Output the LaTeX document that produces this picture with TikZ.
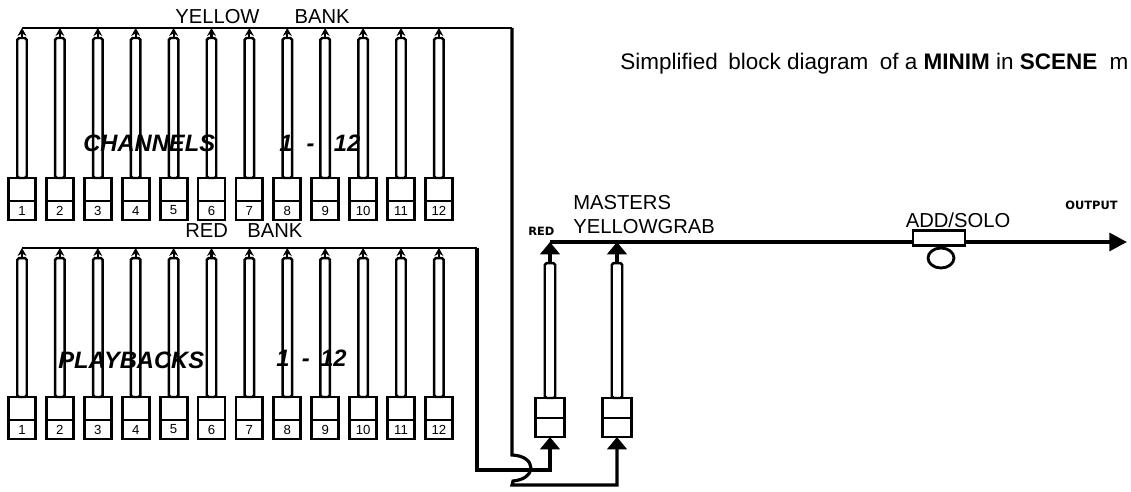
\documentclass[tikz,border=0pt]{standalone}
\usepackage{fontspec}
\setmainfont{Liberation Sans}
\newfontfamily\tinybold{DejaVu Sans}
\usetikzlibrary{positioning,arrows.meta,shapes.geometric}

\begin{document}
\begin{tikzpicture}[x=0.02cm,y=-0.02cm,
    knobtop/.style={draw,line width=1.6pt,fill=white,outer sep=0pt,inner sep=0pt,
      minimum width=0.54cm,minimum height=0.46cm},
    knobbot/.style={knobtop,minimum height=0.38cm,font=\fontsize{7.5}{8}\selectfont},
    rod/.style={draw,line width=1.4pt,fill=white,outer sep=0pt,inner sep=0pt,
      minimum width=0.19cm,rounded corners=1pt},
    bus/.style={line width=1.4pt},
    tap/.style={line width=1.2pt,-{Stealth[length=4.5pt,width=5pt]}},
    feed/.style={line width=1.8pt,-{Triangle[length=7pt,width=11pt]}},
    lbl/.style={font=\fontsize{11.5}{13}\selectfont,inner sep=0pt},
    big/.style={font=\fontsize{13.5}{15}\selectfont\bfseries\itshape,inner sep=0pt}]

\useasboundingbox (0,0) rectangle (1131,492);

\coordinate (ybusL) at (22,28);
\coordinate (ybusR) at (512,28);
\coordinate (rbusL) at (22,248);
\coordinate (rbusR) at (477,248);
\coordinate (rfeed) at (477,470);
\coordinate (yfeed) at (512,485);
\coordinate (obusL) at (550,242);
\coordinate (out) at (1127,242);

% channel faders
\foreach \i in {1,...,12} {
  \node[knobtop,anchor=north] (ct\i) at ({22+37.9*(\i-1)},178) {};
  \node[knobbot,below=0pt of ct\i] (cb\i) {\i};
  \node[rod,anchor=south,minimum height=2.8cm] (cr\i) at (ct\i.north) {};
  \draw[tap] (cr\i.north) -- (cr\i.north |- ybusL);
}
% playback faders
\foreach \i in {1,...,12} {
  \node[knobtop,anchor=north] (pt\i) at ({22+37.9*(\i-1)},397) {};
  \node[knobbot,below=0pt of pt\i] (pb\i) {\i};
  \node[rod,anchor=south,minimum height=2.78cm] (pr\i) at (pt\i.north) {};
  \draw[tap] (pr\i.north) -- (pr\i.north |- rbusL);
}
% masters
\foreach \i/\x in {1/550,2/617} {
  \node[knobtop,anchor=north,minimum width=0.58cm,minimum height=0.40cm] (mt\i) at (\x,398) {};
  \node[knobbot,below=0pt of mt\i,minimum width=0.58cm] (mb\i) {};
  \node[rod,anchor=south,minimum width=0.21cm,minimum height=2.7cm] (mr\i) at (mt\i.north) {};
}

% buses
\draw[bus] (ybusL) -- (ybusR);
\draw[bus] (rbusL) -- (rbusR);
\draw[feed] (rbusR) -- (rfeed) -| (mb1.south);
\draw[feed] (ybusR) -- (512,455) .. controls (537,456) and (537,479) .. (513,481)
  -- (yfeed) -| (mb2.south);
\draw[line width=2.2pt,-{Triangle[length=10pt,width=10pt]}] (obusL) -- (out);
\foreach \i in {1,2}
  \draw[feed] (mr\i.north) -- (mr\i.north |- obusL);

% add/solo switch
\node[draw,line width=1.6pt,fill=white,minimum width=1.04cm,minimum height=0.3cm,
  inner sep=0pt] (add) at (939,238) {};
\node[draw,ellipse,line width=1.6pt,minimum width=0.52cm,minimum height=0.4cm,
  inner sep=0pt] (solo) at (941,258) {};

% labels
\node[lbl,anchor=west] (ylab) at (175,17) {YELLOW\hspace{20pt}BANK};
\node[lbl,anchor=west] (rlab) at (185,231) {RED\hspace{11pt}BANK};
\node[big,anchor=west] (chan) at (83,143) {CHANNELS};
\node[big,anchor=west] (chnum) at (279,143) {1\hspace{8pt}-\hspace{11pt}12};
\node[big,anchor=west] (play) at (58,360) {PLAYBACKS};
\node[big,anchor=west] (plnum) at (276,358) {1\hspace{7pt}-\hspace{6pt}12};
\node[lbl,anchor=west] (mast) at (573,203) {MASTERS};
\node[lbl,anchor=west] (grab) at (573,227) {YELLOWGRAB};
\node[anchor=west,inner sep=0pt,font=\tinybold\bfseries\fontsize{6.5}{7}\selectfont]
  (mred) at (528,231) {RED};
\node[lbl] (addlab) at (958,220) {ADD/SOLO};
\node[anchor=west,inner sep=0pt,font=\tinybold\bfseries\fontsize{6.5}{7}\selectfont]
  (outlab) at (1065,205) {OUTPUT};
\node[anchor=west,inner sep=0pt,font=\fontsize{12.8}{15}\selectfont] (title) at (620,64)
  {Simplified\hspace{6pt}block diagram\hspace{3pt} of a \textbf{MINIM} in \textbf{SCENE}\hspace{7pt}m};

\end{tikzpicture}
\end{document}
